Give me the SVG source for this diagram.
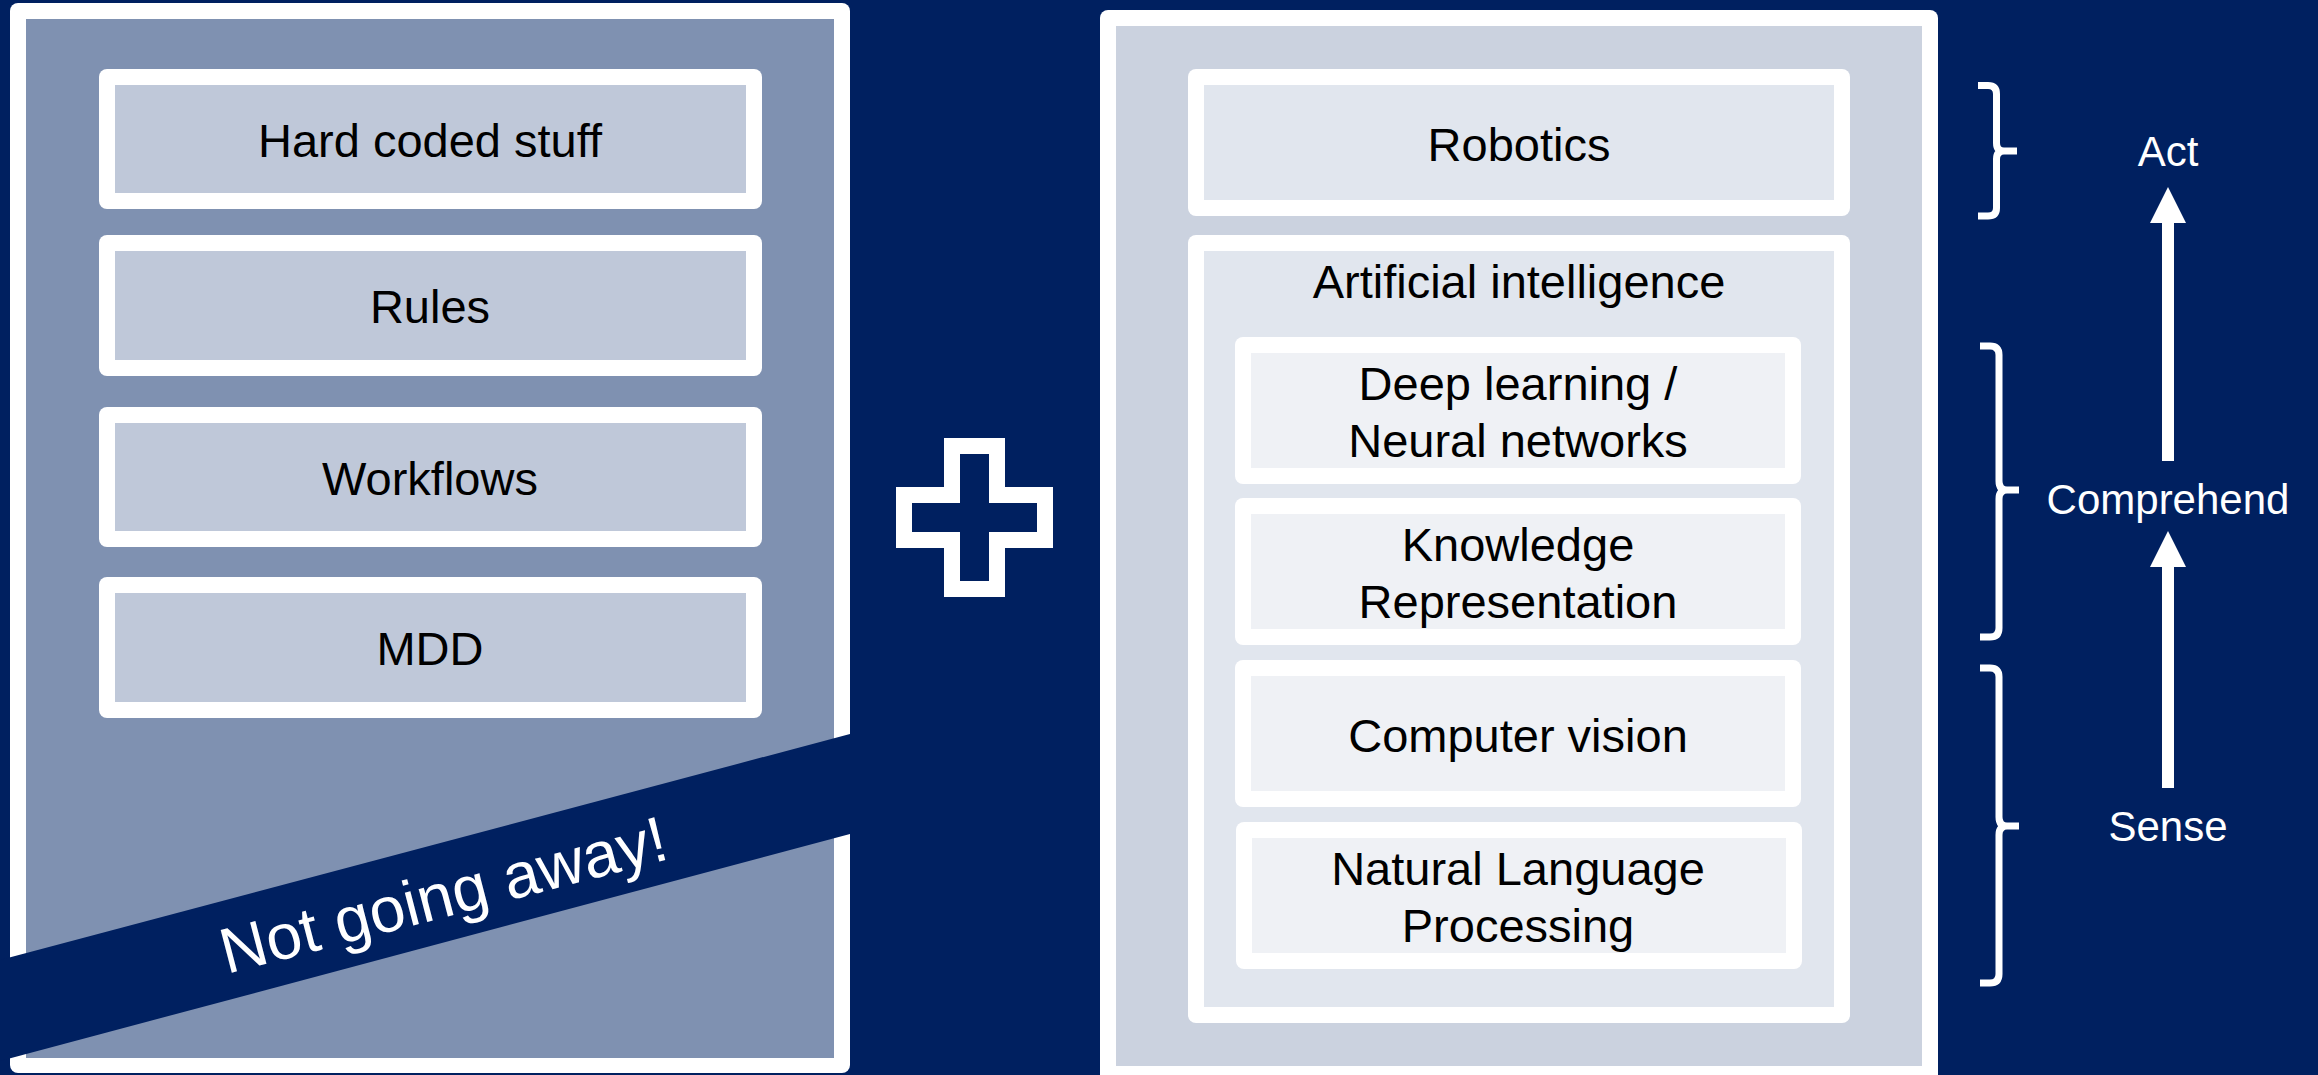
<svg xmlns="http://www.w3.org/2000/svg" width="2318" height="1075" viewBox="0 0 2318 1075">
<style>
.t{font-family:"Liberation Sans",Arial,sans-serif;font-size:47px;fill:#000;text-anchor:middle}
.w{font-family:"Liberation Sans",Arial,sans-serif;font-size:42px;fill:#fff;text-anchor:middle}
.frame{fill:#fff}
.lbox{fill:#BFC8D9}
.rbox{fill:#E1E6EE}
.sbox{fill:#EFF1F5}
.brace{fill:none;stroke:#fff;stroke-width:7;stroke-linecap:butt;stroke-linejoin:round}
</style>
<rect x="0" y="0" width="2318" height="1075" fill="#002060"/>

<g id="left-panel">
<rect class="frame" x="10" y="3" width="840" height="1070" rx="8"/>
<rect x="26" y="19" width="808" height="1039" fill="#7F91B1"/>
</g>
<g id="hard-coded">
<rect class="frame" x="99" y="69" width="663" height="140" rx="8"/>
<rect class="lbox" x="115" y="85" width="631" height="108"/>
<text class="t" x="430" y="157">Hard coded stuff</text>
</g>
<g id="rules">
<rect class="frame" x="99" y="235" width="663" height="141" rx="8"/>
<rect class="lbox" x="115" y="251" width="631" height="109"/>
<text class="t" x="430" y="323">Rules</text>
</g>
<g id="workflows">
<rect class="frame" x="99" y="407" width="663" height="140" rx="8"/>
<rect class="lbox" x="115" y="423" width="631" height="108"/>
<text class="t" x="430" y="495">Workflows</text>
</g>
<g id="mdd">
<rect class="frame" x="99" y="577" width="663" height="141" rx="8"/>
<rect class="lbox" x="115" y="593" width="631" height="109"/>
<text class="t" x="430" y="665">MDD</text>
</g>
<g id="banner">
<polygon points="0,960 850,734 850,834 0,1061" fill="#002060"/>
<text transform="translate(443,894) rotate(-14.6)" x="0" y="23" font-family="Liberation Sans, Arial, sans-serif" font-size="64" fill="#fff" text-anchor="middle">Not going away!</text>
</g>

<g id="plus">
<polygon points="952,446 997,446 997,495 1045,495 1045,540 997,540 997,589 952,589 952,540 904,540 904,495 952,495" fill="#002060" stroke="#fff" stroke-width="16" stroke-linejoin="miter"/>
</g>

<g id="right-panel">
<rect class="frame" x="1100" y="10" width="838" height="1080" rx="8"/>
<rect x="1116" y="26" width="806" height="1040" fill="#CBD2DF"/>
</g>
<g id="robotics">
<rect class="frame" x="1188" y="69" width="662" height="147" rx="8"/>
<rect class="rbox" x="1204" y="85" width="630" height="115"/>
<text class="t" x="1519" y="161">Robotics</text>
</g>
<g id="artificial-intelligence">
<rect class="frame" x="1188" y="235" width="662" height="788" rx="8"/>
<rect class="rbox" x="1204" y="251" width="630" height="756"/>
<text class="t" x="1519" y="298">Artificial intelligence</text>
</g>
<g id="deep-learning">
<rect class="frame" x="1235" y="337" width="566" height="147" rx="8"/>
<rect class="sbox" x="1251" y="353" width="534" height="115"/>
<text class="t" x="1518" y="400">Deep learning /</text>
<text class="t" x="1518" y="457">Neural networks</text>
</g>
<g id="knowledge-representation">
<rect class="frame" x="1235" y="498" width="566" height="147" rx="8"/>
<rect class="sbox" x="1251" y="514" width="534" height="115"/>
<text class="t" x="1518" y="561">Knowledge</text>
<text class="t" x="1518" y="618">Representation</text>
</g>
<g id="computer-vision">
<rect class="frame" x="1235" y="660" width="566" height="147" rx="8"/>
<rect class="sbox" x="1251" y="676" width="534" height="115"/>
<text class="t" x="1518" y="752">Computer vision</text>
</g>
<g id="nlp">
<rect class="frame" x="1236" y="822" width="566" height="147" rx="8"/>
<rect class="sbox" x="1252" y="838" width="534" height="115"/>
<text class="t" x="1518" y="885">Natural Language</text>
<text class="t" x="1518" y="942">Processing</text>
</g>

<g id="connectors">
<path class="brace" d="M1978,85.5 L1988,85.5 Q1996.5,85.5 1996.5,94 L1996.5,143 Q1996.5,151 2004,151 L2017,151 M2004,151 Q1996.5,151 1996.5,159 L1996.5,208 Q1996.5,216 1988,216 L1978,216"/>
<path class="brace" d="M1980,346 L1990,346 Q1999,346 1999,355 L1999,481 Q1999,490 2007,490 L2019,490 M2007,490 Q1999,490 1999,499 L1999,628 Q1999,637 1990,637 L1980,637"/>
<path class="brace" d="M1980,668 L1990,668 Q1999,668 1999,677 L1999,817 Q1999,826 2007,826 L2019,826 M2007,826 Q1999,826 1999,835 L1999,974 Q1999,983 1990,983 L1980,983"/>
<polygon points="2168,187 2186,223 2174,223 2174,461 2162,461 2162,223 2150,223" fill="#fff"/>
<polygon points="2168,531 2186,567 2174,567 2174,788 2162,788 2162,567 2150,567" fill="#fff"/>
</g>
<g id="labels">
<text class="w" x="2168" y="166">Act</text>
<text class="w" x="2168" y="514">Comprehend</text>
<text class="w" x="2168" y="841">Sense</text>
</g>
</svg>
